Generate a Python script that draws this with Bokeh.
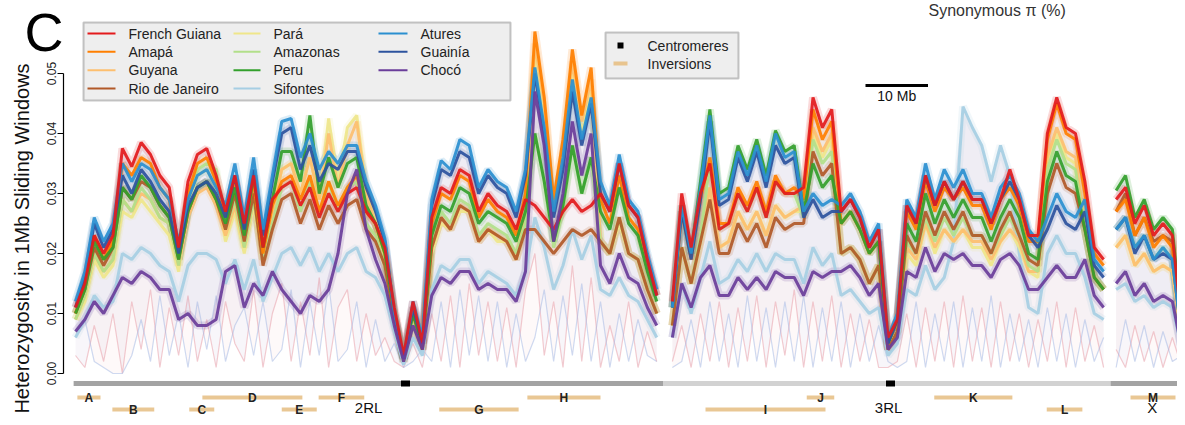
import numpy as np
from math import pi
from bokeh.plotting import figure
from bokeh.models import (Range1d, LinearAxis, FixedTicker, PrintfTickFormatter,
                          Label, BoxAnnotation)
from bokeh.core.properties import value
from bokeh.embed import file_html
from bokeh.resources import INLINE

# ---------------- data ----------------
# sliding-window centres (Mb) per chromosome arm
win_2RL = np.arange(0.0, 93.01, 1.5)
win_3RL = np.arange(95.5, 164.51, 1.5)
win_X = np.arange(166.5, 177.01, 1.5)
gap_2RL_3RL = 94.25
gap_3RL_X = 165.5
positions = np.concatenate([win_2RL, [gap_2RL_3RL], win_3RL, [gap_3RL_X], win_X])

N = None  # gap between chromosomes
# heterozygosity x 1000 (2RL | gap | 3RL | gap | X)
french_guiana = [
    11, 15, 23, 20, 23, 37.5, 34.5, 38.5, 36.5, 33, 31, 21, 32, 36.5, 37.5, 33, 27, 33, 25, 33,
    21, 29, 31, 32, 28, 31, 26, 30, 27, 30, 31, 27, 25, 21, 11, 3, 12, 5, 26, 31,
    30, 34, 33, 27, 30, 28, 27, 24, 29, 28, 26, 24, 27, 29, 27, 28, 30, 27, 35, 28, 26, 19, 13,
    N,
    12, 30, 21, 30, 35, 24, 25, 30, 27, 31, 26, 32, 30, 30, 31, 46, 41, 44, 27, 29,
    26, 21, 24, 6, 9, 28, 25, 33, 28, 32, 29, 32, 29, 29, 25, 29, 34, 29, 23, 23, 40, 46, 41, 40, 32, 21, 19,
    N,
    29, 31, 25, 28, 23, 25, 23, 8]
amapa = [
    10, 15, 23, 19, 22, 35, 33, 36, 35, 31, 29, 20, 30, 35, 36, 32, 26, 32, 24, 32,
    20, 28, 32, 33, 29, 33, 27, 32, 28, 31, 33, 27, 25, 20, 10, 2.5, 11, 5, 25, 30,
    29, 33, 32, 26, 29, 27, 26, 23, 30, 57, 46, 29, 39, 54, 43, 51, 29, 25, 33, 26, 24, 18, 13,
    N,
    11, 27, 19, 29, 36, 25, 25, 31, 28, 32, 27, 33, 30, 31, 29, 44, 39, 42, 25, 27,
    24, 20, 22, 5, 9, 27, 24, 32, 27, 31, 29, 31, 28, 28, 24, 29, 31, 28, 22, 22, 39, 45, 40, 39, 30, 20, 18,
    N,
    27, 29, 23, 26, 21, 23, 21, 7]
guyana = [
    9, 13, 20, 17, 19, 29, 27, 30, 29, 26, 25, 18, 26, 30, 31, 28, 23, 28, 21, 29,
    19, 27, 34, 35, 30, 36, 29, 40, 31, 38, 42, 30, 25, 19, 9, 2, 9, 4, 21, 26,
    24, 28, 27, 22, 24, 23, 22, 19, 27, 55, 45, 28, 37, 52, 42, 49, 22, 20, 26, 20, 19, 14, 10,
    N,
    8, 21, 15, 22, 31, 21, 22, 27, 24, 27, 23, 28, 26, 27, 28, 41, 37, 40, 20, 21,
    19, 15, 18, 4, 7, 21, 19, 25, 21, 24, 22, 24, 22, 22, 19, 22, 24, 22, 17, 17, 36, 41, 37, 36, 24, 16, 14,
    N,
    21, 23, 18, 20, 17, 18, 17, 6]
rio_de_janeiro = [
    10, 14, 21, 18, 21, 31, 29, 32, 31, 28, 26, 19, 27, 31, 32, 29, 24, 30, 22, 30,
    18, 24, 29, 30, 25, 29, 24, 28, 25, 28, 29, 24, 22, 18, 9, 2.5, 10, 4, 21, 26,
    24, 28, 27, 22, 24, 23, 22, 19, 24, 24, 22, 20, 22, 24, 23, 24, 22, 20, 26, 20, 19, 14, 10,
    N,
    8, 21, 15, 22, 29, 20, 20, 25, 22, 25, 21, 26, 24, 25, 25, 37, 33, 35, 20, 21,
    19, 15, 18, 4, 7, 23, 20, 27, 23, 27, 24, 27, 23, 23, 20, 24, 27, 23, 19, 18, 30, 35, 31, 30, 24, 16, 14,
    N,
    27, 30, 23, 26, 22, 23, 22, 7]
para = [
    9, 12, 19, 16, 18, 27, 26, 29, 27, 25, 23, 17, 28, 33, 34, 31, 22, 27, 20, 28,
    19, 27, 34, 35, 30, 36, 29, 42.5, 32, 41, 43, 31, 26, 20, 9, 2, 9, 4, 20, 25,
    24, 27, 27, 22, 24, 22, 22, 19, 26, 53, 43, 27, 36, 50, 40, 47, 22, 20, 25, 20, 19, 14, 10,
    N,
    8, 21, 15, 22, 31, 21, 22, 27, 24, 27, 23, 28, 26, 27, 27, 40, 36, 39, 20, 21,
    19, 15, 18, 4, 7, 20, 18, 25, 20, 24, 22, 24, 21, 21, 18, 22, 24, 21, 17, 16, 35, 40, 36, 35, 24, 16, 14,
    N,
    21, 23, 18, 20, 17, 18, 17, 6]
amazonas = [
    9, 13, 20, 17, 19, 29, 27, 31, 29, 26, 25, 18, 29, 34, 35, 34, 24, 29, 21, 29,
    19, 25, 31, 32, 27, 32, 26, 32, 27, 31, 32, 25, 23, 18, 9, 2, 9, 4, 22, 27,
    25, 29, 28, 23, 25, 24, 23, 20, 25, 40, 32, 21, 27, 38, 30, 36, 22, 20, 26, 20, 19, 14, 10,
    N,
    8, 21, 15, 23, 35, 24, 25, 30, 27, 31, 26, 32, 30, 30, 26, 39, 35, 37, 20, 21,
    19, 15, 18, 4, 7, 22, 20, 26, 22, 26, 23, 26, 23, 23, 20, 23, 26, 23, 18, 17, 34, 39, 35, 34, 24, 16, 14,
    N,
    24, 26, 21, 23, 19, 21, 19, 6]
peru = [
    10, 14, 22, 19, 21, 31, 29, 33, 31, 28, 26, 19, 27, 31, 32, 29, 25, 31, 23, 33,
    21, 29, 37, 37, 32, 43, 30, 36, 31, 35, 36, 28, 25, 20, 10, 2.5, 10, 5, 23, 28,
    27, 31, 30, 25, 27, 26, 25, 22, 27, 40, 32, 22, 28, 38, 30, 36, 27, 24, 31, 25, 23, 17, 12,
    N,
    11, 28, 20, 32, 44, 30, 31, 38, 34, 39, 33, 40.5, 37, 38, 27, 35, 31, 33, 25, 27,
    24, 20, 22, 5, 9, 25, 22, 30, 25, 29, 26, 29, 26, 26, 22, 26, 29, 26, 20, 19, 32, 37, 33, 32, 24, 16, 14,
    N,
    30.5, 33, 26, 29, 24, 26, 24, 8]
sifontes = [
    6, 9, 13, 11, 12, 20, 19, 21, 20, 18, 17, 12, 18, 20, 20, 19, 15, 19, 14, 19,
    12, 16, 20, 21, 18, 21, 17, 20, 17, 20, 21, 17, 16, 13, 7, 1.5, 6, 3, 14, 18,
    17, 19, 19, 15, 17, 16, 15, 13, 17, 26, 21, 14, 18, 24, 19, 23, 14, 13, 16, 13, 12, 9, 6,
    N,
    6, 15, 10, 16, 22, 15, 16, 19, 17, 20, 17, 20, 19, 19, 15, 21, 18, 20, 13, 14,
    12, 10, 11, 3, 5, 14, 13, 18, 14, 16, 22, 44.5, 41, 38, 32, 38, 33, 20, 11, 10, 20, 23, 20, 20, 16, 10, 9,
    N,
    14, 15, 12, 13, 11, 12, 11, 4]
atures = [
    12, 17, 26, 22, 25, 35, 32, 35, 34, 31, 29, 22, 29, 33, 34, 31, 28, 35, 26, 36,
    24, 33, 42, 42.5, 36, 40, 34, 37, 35, 38, 38, 32, 28, 22.5, 10, 2.5, 12, 6, 29, 35.5,
    34, 39, 38, 31, 34, 32, 31, 27, 34, 51, 41, 27, 36, 49, 39, 46, 32, 28, 36.5, 29, 27, 20, 14,
    N,
    11, 28, 20, 31, 43, 29, 30, 37, 33, 38, 32, 40, 36, 37, 27, 30, 28, 29, 28, 30,
    27, 22, 25, 6, 10, 29, 26, 35, 29, 34, 31, 34, 30, 30, 26, 31, 33, 30, 24, 22, 26, 30, 27, 26, 29, 19, 17,
    N,
    24, 26, 21, 23, 19, 21, 19, 6]
guainia = [
    11, 16, 25, 21, 24, 33, 30, 34, 32, 29, 27, 20, 28, 31, 32, 30, 26, 33, 24, 34,
    23, 32, 40, 41, 34, 38, 32, 35, 34, 37, 37, 31, 27, 22, 10, 2.5, 11, 5, 28, 34,
    33, 37, 36, 30, 33, 31, 30, 26, 33, 50, 40, 26, 34, 47, 38, 45, 30, 27, 35, 28, 26, 19, 13,
    N,
    11, 27, 19, 29, 42, 28, 29, 36, 32, 37, 31, 38, 35, 36, 26, 29, 26, 27, 27, 29,
    26, 21, 24, 5, 9, 28, 25, 33, 28, 32, 29, 32, 29, 29, 25, 29, 32, 29, 23, 21, 24, 28, 25, 24, 27, 18, 16,
    N,
    24, 26, 20, 23, 19, 20, 19, 6]
choco = [
    7, 9, 12, 10, 13, 16, 15, 17, 16, 14, 14, 9, 10, 8, 8, 9, 17, 18, 11, 15,
    13, 17, 14, 12, 10, 13, 12, 14, 20, 30, 34, 24, 19, 15, 8, 2, 8, 4, 13, 16,
    15, 17, 17, 14, 15, 14, 14, 12, 17, 47, 38, 22, 30, 42, 33, 40, 18, 15, 20, 16, 15, 11, 8,
    N,
    6, 15, 11, 16, 18, 13, 13, 16, 14, 16, 14, 17, 16, 16, 13, 17, 16, 17, 17, 18,
    16, 13, 15, 4, 6, 17, 16, 21, 17, 20, 19, 20, 18, 18, 16, 19, 20, 18, 14, 14, 16, 18, 16, 16, 19, 13, 11,
    N,
    15, 17, 13, 15, 12, 13, 12, 4]
# lowest individual samples (faint background lines)
low_individual_a = [
    3, 1, 8, 2, 10, 0, 12, 4, 14, 1, 11, 3, 13, 2, 9, 1, 12, 5, 2, 14,
    1, 10, 15, 2, 12, 3, 16, 1, 11, 14, 2, 10, 3, 6, 2, 1, 5, 1, 10, 2,
    13, 1, 15, 3, 12, 2, 11, 1, 14, 20, 3, 12, 1, 18, 2, 16, 1, 8, 2, 12, 1, 7, 2,
    N,
    2, 8, 1, 10, 2, 12, 1, 11, 2, 13, 1, 12, 3, 14, 1, 12, 2, 13, 1, 10,
    2, 9, 1, 1, 2, 10, 1, 11, 2, 12, 1, 13, 2, 11, 1, 12, 2, 10, 1, 9, 2, 12, 1, 11, 2, 8, 1,
    N,
    4, 1, 8, 2, 7, 1, 6, 1]
low_individual_b = [
    6, 9, 2, 1, 0, 0, 3, 9, 2, 13, 3, 10, 1, 12, 4, 13, 2, 8, 11, 3,
    12, 2, 4, 14, 1, 12, 3, 15, 2, 4, 12, 1, 9, 2, 5, 1, 2, 4, 2, 12,
    1, 14, 3, 13, 2, 12, 1, 10, 2, 6, 14, 2, 13, 3, 15, 2, 12, 1, 10, 2, 9, 3, 2,
    N,
    1, 2, 9, 1, 12, 2, 10, 1, 13, 2, 11, 1, 12, 2, 13, 1, 11, 2, 12, 1,
    10, 2, 8, 2, 1, 2, 12, 1, 10, 2, 12, 1, 11, 2, 13, 1, 10, 2, 9, 1, 11, 2, 10, 1, 9, 2, 6,
    N,
    1, 9, 2, 8, 1, 7, 2, 3]

population_names = ["French Guiana", "Amapá", "Guyana", "Rio de Janeiro",
                    "Pará", "Amazonas", "Peru", "Sifontes",
                    "Atures", "Guainía", "Chocó"]
population_series = [french_guiana, amapa, guyana, rio_de_janeiro, para, amazonas,
                     peru, sifontes, atures, guainia, choco]

chrom_names = ["2RL", "3RL", "X"]
chrom_start = [-0.3, 94.0, 165.6]
chrom_end = [94.0, 165.6, 177.6]
centromere_pos = [52.8, 130.4, 177.3]
chrom_label_x = [46.9, 130.1, 172.3]

inv_names = ["A", "B", "C", "D", "E", "F", "G", "H", "I", "J", "K", "L", "M"]
inv_start = [0.3, 5.9, 18.2, 20.3, 33.0, 38.9, 58.2, 72.3, 100.8, 117.0, 137.4, 155.4, 168.8]
inv_end = [4.0, 12.6, 22.2, 36.3, 38.6, 46.2, 70.9, 84.0, 120.0, 121.4, 149.9, 161.1, 176.0]
inv_row = [1, 2, 2, 1, 2, 1, 2, 1, 2, 1, 1, 2, 1]

y_ticks = [0.0, 0.01, 0.02, 0.03, 0.04, 0.05]
scale_bar_mb = 10
y_title = "Heterozygosity in 1Mb Sliding Windows"

# ---------------- styling / layout ----------------
colors = {"French Guiana": "#e31a1c", "Amapá": "#ff7f00", "Guyana": "#fdbf6f",
          "Rio de Janeiro": "#b15928", "Pará": "#efe68a", "Amazonas": "#b2df8a",
          "Peru": "#33a02c", "Sifontes": "#a6cee3", "Atures": "#2a8fd0",
          "Guainía": "#2d539e", "Chocó": "#6a3d9a"}
FONT = "Liberation Sans"
W, H = 1177, 417
Y0_PX = 373.0      # pixel row of y = 0
PX_PER_UNIT = 6000.0
PX0 = 75.0         # pixel column of 0 Mb
PX_PER_MB = 6.25
FRAME_X0 = 63      # pixel of frame left edge


def sx(px):
    return px - FRAME_X0


def sy(py):
    return H - py


def ypx(py):
    return (Y0_PX - py) / PX_PER_UNIT


def xpx(px):
    return (px - PX0) / PX_PER_MB


def het(vals):
    return np.array([np.nan if v is None else v for v in vals], dtype=float) / 1000.0


for nm, s in zip(population_names, population_series):
    assert len(s) == len(positions), (nm, len(s), len(positions))
assert len(low_individual_a) == len(positions) and len(low_individual_b) == len(positions)

p = figure(width=W, height=H, output_backend="svg", toolbar_location=None,
           x_range=Range1d(xpx(FRAME_X0), xpx(W)), y_range=Range1d(ypx(H), ypx(0)),
           x_axis_type=None, y_axis_type=None, min_border=0, min_border_left=FRAME_X0,
           outline_line_color=None, background_fill_color="white")

yaxis = LinearAxis(bounds=(0, 0.05), ticker=FixedTicker(ticks=y_ticks),
                   formatter=PrintfTickFormatter(format="%.2f"))
yaxis.major_label_orientation = "vertical"
yaxis.axis_line_color = "black"
yaxis.axis_line_width = 1.2
yaxis.major_tick_line_color = "black"
yaxis.major_tick_out = 6
yaxis.major_tick_in = 0
yaxis.minor_tick_out = 0
yaxis.minor_tick_in = 0
yaxis.major_label_text_font = FONT
yaxis.major_label_text_font_size = "12px"
yaxis.major_label_text_color = "#222222"
yaxis.major_label_standoff = 2
p.add_layout(yaxis, "left")

series_by_name = dict(zip(population_names, population_series))
all_vals = np.vstack([het(s) for s in population_series])
gap_idx = [i for i, v in enumerate(french_guiana) if v is None]
bounds = [-1] + gap_idx + [len(positions)]
segments = [(bounds[i] + 1, bounds[i + 1]) for i in range(len(bounds) - 1)]

ch = het(choco)
la = het(low_individual_a)
lb = het(low_individual_b)
top_env = np.nanmax(all_vals, axis=0)
for a, b in segments:
    xs = positions[a:b]
    p.varea(x=xs, y1=la[a:b], y2=ch[a:b], fill_color="#c9b7dc", fill_alpha=0.13)
    p.varea(x=xs, y1=lb[a:b], y2=ch[a:b], fill_color="#f2c0c4", fill_alpha=0.10)
    p.varea(x=xs, y1=ch[a:b], y2=top_env[a:b], fill_color="#8d7fb3", fill_alpha=0.14)

# faint individual lines
p.line(positions, la, line_color="#e79aa4", line_width=1.2, line_alpha=0.5)
p.line(positions, lb, line_color="#9fb5e3", line_width=1.2, line_alpha=0.5)

draw_order = ["Sifontes", "Pará", "Guyana", "Amazonas", "Rio de Janeiro", "Amapá",
              "Peru", "Guainía", "Atures", "French Guiana", "Chocó"]
for nm in draw_order:
    p.line(positions, het(series_by_name[nm]), line_color=colors[nm], line_width=8, line_alpha=0.16)
for nm in draw_order:
    p.line(positions, het(series_by_name[nm]), line_color=colors[nm], line_width=3, line_alpha=0.92)

# chromosome bars, centromeres
bar_y = ypx(383)
bar_h = 5 / PX_PER_UNIT
p.quad(left=chrom_start, right=chrom_end, bottom=bar_y - bar_h / 2, top=bar_y + bar_h / 2,
       fill_color=["#a3a3a3", "#d2d2d2", "#a3a3a3"], line_color=None)
p.rect(x=centromere_pos, y=[bar_y] * len(centromere_pos), width=9, height=6,
       width_units="screen", height_units="screen", fill_color="black", line_color=None)

# inversions
row_y = {1: ypx(397), 2: ypx(409)}
inv_y = [row_y[r] for r in inv_row]
inv_h = 4 / PX_PER_UNIT
p.quad(left=inv_start, right=inv_end, bottom=[v - inv_h / 2 for v in inv_y],
       top=[v + inv_h / 2 for v in inv_y], fill_color="#e8c48e", line_color=None, fill_alpha=0.95)
inv_mid = [(a + b) / 2 for a, b in zip(inv_start, inv_end)]
p.text(x=inv_mid, y=inv_y, text=inv_names, text_align="center", text_baseline="middle",
       text_font=value(FONT), text_font_size="12px", text_font_style="bold", text_color="#222222")
p.text(x=chrom_label_x, y=[ypx(407)] * 3, text=chrom_names, text_align="center",
       text_baseline="middle", text_font=value(FONT), text_font_size="15px", text_color="#111111")

# scale bar
sb_left = 126.4
p.add_layout(BoxAnnotation(left=sb_left, right=sb_left + scale_bar_mb, left_units="data", right_units="data",
                           top=sy(83.5), bottom=sy(86.5), top_units="screen", bottom_units="screen",
                           fill_color="black", fill_alpha=1, line_color=None))
p.add_layout(Label(x=sb_left + scale_bar_mb / 2, y=sy(95), x_units="data", y_units="screen",
                   text="10 Mb", text_align="center", text_baseline="middle",
                   text_font=FONT, text_font_size="14px", text_color="#111111"))

# population legend
p.add_layout(BoxAnnotation(left=sx(83), right=sx(510), top=sy(22), bottom=sy(100),
                           left_units="screen", right_units="screen", top_units="screen", bottom_units="screen",
                           fill_color="#eeeeee", fill_alpha=1, line_color="#444444", line_width=2))
rows_y = [33, 51.3, 69.7, 88]
cols = [(87, 115, 128), (233, 260, 273), (378, 407, 420)]
for i, nm in enumerate(population_names):
    c, r = divmod(i, 4)
    x0, x1, xt = cols[c]
    yy = rows_y[r]
    p.add_layout(BoxAnnotation(left=sx(x0), right=sx(x1), top=sy(yy - 1), bottom=sy(yy + 1),
                               left_units="screen", right_units="screen", top_units="screen",
                               bottom_units="screen", fill_color=colors[nm], fill_alpha=1, line_color=None))
    p.add_layout(Label(x=sx(xt), y=sy(yy), x_units="screen", y_units="screen", text=nm,
                       text_baseline="middle", text_font=FONT, text_font_size="14px", text_color="#222222"))

# centromere / inversion legend
p.add_layout(BoxAnnotation(left=sx(605), right=sx(738), top=sy(32), bottom=sy(78),
                           left_units="screen", right_units="screen", top_units="screen", bottom_units="screen",
                           fill_color="#eeeeee", fill_alpha=1, line_color="#444444", line_width=2))
p.add_layout(BoxAnnotation(left=sx(617), right=sx(623), top=sy(42), bottom=sy(48),
                           left_units="screen", right_units="screen", top_units="screen", bottom_units="screen",
                           fill_color="black", fill_alpha=1, line_color=None))
p.add_layout(BoxAnnotation(left=sx(613), right=sx(627), top=sy(61), bottom=sy(65),
                           left_units="screen", right_units="screen", top_units="screen", bottom_units="screen",
                           fill_color="#e8c48e", fill_alpha=1, line_color=None))
p.add_layout(Label(x=sx(647), y=sy(45), x_units="screen", y_units="screen", text="Centromeres",
                   text_baseline="middle", text_font=FONT, text_font_size="14px", text_color="#222222"))
p.add_layout(Label(x=sx(647), y=sy(63), x_units="screen", y_units="screen", text="Inversions",
                   text_baseline="middle", text_font=FONT, text_font_size="14px", text_color="#222222"))

# cut-off header on the right
p.add_layout(Label(x=sx(928), y=sy(10), x_units="screen", y_units="screen", text="Synonymous π (%)",
                   text_baseline="middle", text_font=FONT, text_font_size="16px", text_color="#333333"))

# panel letter and axis title: anchored just inside the frame, drawn on the overlay level
anchor_x = xpx(FRAME_X0 + 0.5)
p.text(x=[anchor_x], y=[ypx(31)], text=["C"], text_align="right", text_baseline="middle",
       x_offset=-0.5, text_font=value(FONT), text_font_size="54px", text_color="black", level="overlay")
p.text(x=[anchor_x], y=[ypx(238)], text=[y_title], angle=pi / 2, text_align="center",
       text_baseline="middle", x_offset=-(FRAME_X0 + 0.5 - 21), text_font=value(FONT),
       text_font_size="20px", text_color="#111111", level="overlay")

open("out.html", "w").write(file_html(p, INLINE))
